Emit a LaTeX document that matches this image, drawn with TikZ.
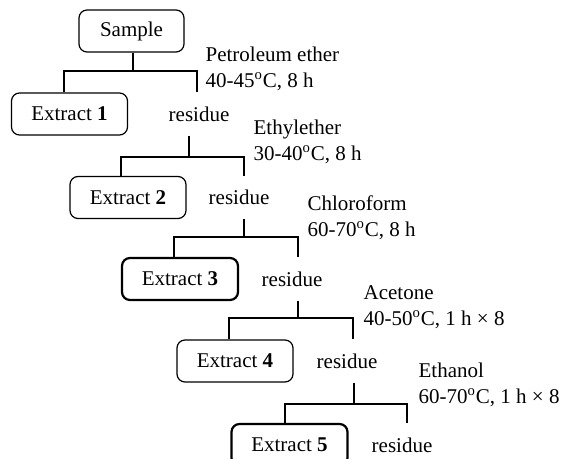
\documentclass[tikz,border=0pt]{standalone}
\usepackage{fontspec}
\setmainfont{Liberation Serif}
\begin{document}
\begin{tikzpicture}[x=0.5pt,y=-0.5pt,
	box/.style={draw, rounded corners=4pt, minimum width=58pt, minimum height=21pt, inner sep=0pt, line width=0.6pt},
	boldbox/.style={box, line width=1.1pt},
	res/.style={minimum height=21pt, inner sep=0pt},
	solvent/.style={anchor=west, align=left, inner sep=0pt},
	font=\fontsize{10.5}{13}\selectfont, line width=0.6pt]
	\useasboundingbox (0,0) rectangle (561,459);
	%start
	\node[box, minimum width=52.5pt] (sample) at (131.5,31) {Sample};
	%extracts
	\node[box] (ex1) at (69.5,114) {Extract \textbf{1}};
	\node[box] (ex2) at (128,197.5) {Extract \textbf{2}};
	\node[boldbox] (ex3) at (180,279) {Extract \textbf{3}};
	\node[box] (ex4) at (235,361) {Extract \textbf{4}};
	\node[boldbox] (ex5) at (289.5,445) {Extract \textbf{5}};
	%residues
	\node[res] (res1) at (199,114) {residue};
	\node[res] (res2) at (239,197.5) {residue};
	\node[res] (res3) at (292,279) {residue};
	\node[res] (res4) at (347,361) {residue};
	\node[res] (res5) at (402,445) {residue};
	%solvents
	\node[solvent] (pe) at (205,68.5) {Petroleum ether\\40-45\textsuperscript{o}C, 8 h};
	\node[solvent] (ee) at (253,142) {Ethylether\\30-40\textsuperscript{o}C, 8 h};
	\node[solvent] (cf) at (307,218) {Chloroform\\60-70\textsuperscript{o}C, 8 h};
	\node[solvent] (ac) at (363,307.5) {Acetone\\40-50\textsuperscript{o}C, 1 h × 8};
	\node[solvent] (et) at (418,385) {Ethanol\\60-70\textsuperscript{o}C, 1 h × 8};
	%splits
	\foreach \p/\k/\y/\l/\t/\r in {sample/1/71/64/133/197, res1/2/157/121/189/244,
		res2/3/237/174/244/298, res3/4/318/229/298/353, res4/5/404/285/354/407} {
		\coordinate (l) at (\l,\y);
		\coordinate (t) at (\t,\y);
		\coordinate (r) at (\r,\y);
		\draw (t |- \p.south) -- (t);
		\draw (l |- ex\k.north) -- (l) -- (r) -- (r |- res\k.north);
	}
\end{tikzpicture}
\end{document}
